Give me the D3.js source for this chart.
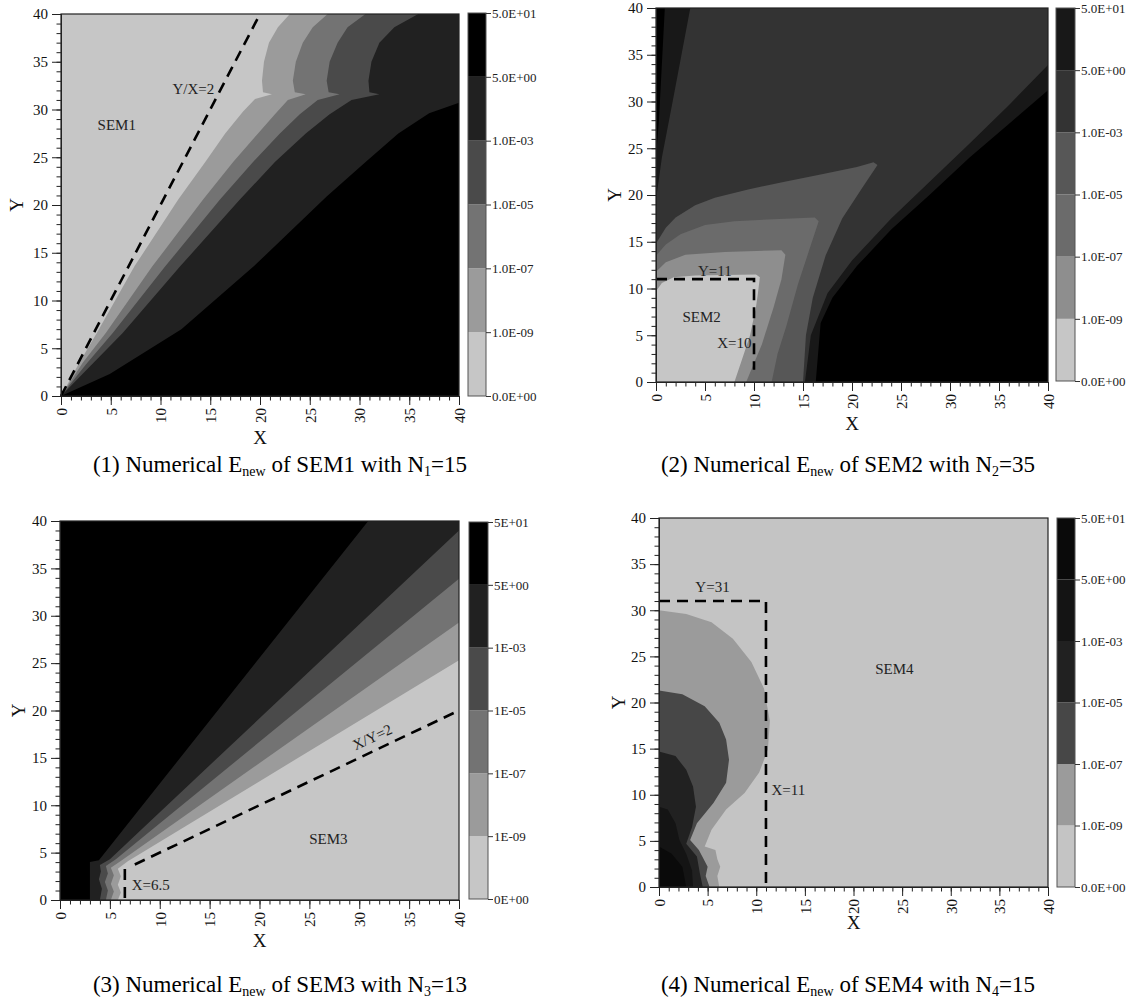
<!DOCTYPE html>
<html>
<head>
<meta charset="utf-8">
<script src="https://cdn.jsdelivr.net/npm/d3@7"></script>
<style>
body { margin: 0; background: #fff; }
svg, svg text { font-family: "Liberation Serif", "Times New Roman", serif; }
</style>
</head>
<body>
<svg id="chart" width="1134" height="1000"></svg>
<script>
// tick values
var majorTicks = d3.range(0, 41, 5);
var minorTicks = d3.range(0, 41, 1);
var levelLabels = ["0.0E+00", "1.0E-09", "1.0E-07", "1.0E-05", "1.0E-03", "5.0E+00", "5.0E+01"];
var levelLabelsShort = ["0E+00", "1E-09", "1E-07", "1E-05", "1E-03", "5E+00", "5E+01"];

// SEM1: contour edges, each band fills the part right/below of its edge
var sem1Band1 = [[0,0],[1.8,3.4],[3.6,6.6],[7.4,13.6],[11.8,20.6],[14.5,24.5],[16.5,27.5],[18.3,29.8],[19.5,31.1],[21.2,31.6],[20.3,31.8],[20.2,33],[20.4,35],[20.9,37],[21.8,38.6],[23,40],[40,40],[40,0]];
var sem1Band2 = [[0,0],[2.2,3.5],[4.5,6.6],[9.2,13.6],[14.3,20.6],[17.3,24.5],[19.8,27.5],[21.5,29.5],[22.8,31],[24.6,31.6],[23.5,31.8],[23.3,33],[23.6,35],[24.3,37],[25.3,38.6],[26.8,40],[40,40],[40,0]];
var sem1Band3 = [[0,0],[2.5,3.3],[5.2,6.6],[10.5,13.6],[16,20.6],[19.3,24.5],[22,27.5],[24,29.5],[25.8,31],[28,31.6],[26.9,31.8],[26.7,33],[27,35],[27.8,37],[28.8,38.6],[30.6,40],[40,40],[40,0]];
var sem1Band4 = [[0,0],[3,3.2],[6.2,6.6],[12,13.6],[18,20.6],[21.5,24.5],[24.6,27.5],[27,29.5],[29.2,31],[32,31.6],[31,31.8],[30.9,33],[31.2,35],[32,37],[33.5,38.6],[35.9,40],[40,40],[40,0]];
var sem1Band5 = [[0,0],[4.9,2.3],[12.1,7],[19.4,13.6],[26.7,20.9],[30.5,24.4],[33.9,27.5],[37,29.6],[40,30.7],[40,0]];

// SEM2
var sem2Band5Right = [[15.2,0],[15.8,5],[17.5,9.5],[20,13],[24,17.5],[28,21.5],[32,25.5],[36,29.6],[40,33.9],[40,0]];
var sem2OverRight = [[16.3,0],[16.8,6.3],[18,9],[20.5,12.4],[24,16.3],[27.9,20],[32,24],[36,27.6],[40,31.2],[40,0]];
var sem2Band5Left = [[0,19.5],[0.6,24],[1.7,30],[2.6,35],[3.5,40],[0,40]];
var sem2OverLeft = [[0,24],[0.3,28],[0.5,32],[0.7,36],[0.9,40],[0,40]];
var sem2Band3 = [[0,14.8],[1,16.5],[2,17.6],[4,18.9],[6,19.7],[9.4,20.6],[13,21.4],[16.8,22.2],[20.5,23],[22.2,23.5],[22.6,23.2],[21,20.7],[19,17.5],[17.3,13.5],[16,9],[15.3,5],[15,0],[0,0]];
var sem2Band2 = [[0,13.5],[1,14.7],[2.5,15.8],[5,16.8],[8,17.2],[12,17.4],[16.2,17.6],[16.6,17.2],[15.6,14],[14.5,10.5],[13.3,6],[12.4,3],[11.8,0],[0,0]];
var sem2Band1 = [[0,11.8],[1,12.8],[3,13.6],[7,13.9],[12.8,14.1],[13.2,13.6],[12.8,11],[12,8],[10.8,4],[9.2,0],[0,0]];
var sem2Band0 = [[0,9.7],[0.6,10.6],[1.8,11.2],[4,11.4],[10.2,11.5],[10.6,11.2],[10.4,9.5],[10.2,8],[9.6,5],[8.8,2.5],[8,0],[0,0]];

// SEM3: each band fills the part left/above of its edge
var sem3Band1 = [[5.8,0],[6.1,0.8],[5.8,1.6],[6.1,2.5],[5.8,3.3],[6.8,4.1],[40,25.3],[40,40],[0,40],[0,0]];
var sem3Band2 = [[5.1,0],[5.4,0.9],[5.1,1.7],[5.4,2.6],[5.1,3.4],[6.2,4.2],[40,29.3],[40,40],[0,40],[0,0]];
var sem3Band3 = [[4.6,0],[4.8,1],[4.5,1.9],[4.8,2.8],[4.6,3.6],[5.6,4.3],[40,33.9],[40,40],[0,40],[0,0]];
var sem3Band4 = [[4,0],[4.2,1.2],[3.9,2.2],[4.1,3],[4,3.7],[5,4.3],[40,39],[40,40],[0,40],[0,0]];
var sem3Band5 = [[3,0],[3,4],[3.9,4.2],[30.9,40],[0,40],[0,0]];

// SEM4: bands grow from the origin
var sem4Band1 = [[0,30],[2.8,29.6],[5.4,28.7],[7.6,26.9],[9.5,24.4],[10.8,21.5],[11.4,18],[11.2,14.9],[10.3,12.4],[8.8,10.2],[6.9,8.4],[5.4,6.2],[4.7,4.4],[5.8,4],[6,3],[6.3,2.2],[6,1.2],[6.2,0],[0,0]];
var sem4Band2 = [[0,21.3],[2.4,20.9],[4.7,19.6],[6.2,17.8],[6.9,16],[7.2,13.8],[6.9,11.3],[5.6,9.1],[3.9,6.9],[3.2,5.1],[4.1,4],[4.6,3],[5,2.2],[4.8,1.2],[5.2,0],[0,0]];
var sem4Band3 = [[0,14.7],[1.7,14.2],[2.8,12.7],[3.5,10.9],[3.8,8.7],[3.4,6.5],[2.8,4.7],[3.9,3.3],[4.2,1.5],[4.5,0],[0,0]];
var sem4Band4 = [[0,8.7],[0.9,8.4],[1.7,6.9],[2.1,5.1],[2.8,3.6],[3.4,1.8],[3.5,0],[0,0]];
var sem4Band5 = [[0,4.4],[1.3,3.6],[2.4,2.2],[2.8,0],[0,0]];

// dashed division lines
var sem1Dash = [[[0,0],[20,40]]];
var sem2Dash = [[[0,11],[10,11],[10,1.3]]];
var sem3Dash = [[[7.5,3.75],[40,20]], [[6.5,0.2],[6.5,3.9]]];
var sem4Dash = [[[0,31],[11,31],[11,0.2]]];

var grayA = ["#c6c6c6", "#9b9b9b", "#737373", "#4a4a4a", "#212121", "#000000"];
var grayB = ["#c6c6c6", "#8e8e8e", "#6b6b6b", "#575757", "#333333", "#181818", "#000000"];
var grayC = ["#c4c4c4", "#9b9b9b", "#474747", "#212121", "#141414", "#0a0a0a"];

var serif = "Liberation Serif, Times New Roman, serif";
var svg = d3.select("#chart").attr("font-family", serif);

var panels = [
  { id: 1, box: [61, 459, 14, 396], bar: [468, 486, 13, 396], gray: grayA, base: 0,
    regions: [[1, sem1Band1], [2, sem1Band2], [3, sem1Band3], [4, sem1Band4], [5, sem1Band5]],
    dash: sem1Dash, labels: levelLabels,
    notes: [["Y/X=2", 13.3, 32.2, 0], ["SEM1", 5.6, 28.4, 0]],
    yTitle: 16, xTitle: 437, caption: [280, 472, "1", "SEM1", "1", "15"] },
  { id: 2, box: [656, 1048, 8, 382], bar: [1056, 1075, 8, 381], gray: grayB, base: 4,
    regions: [[5, sem2Band5Right], [6, sem2OverRight], [5, sem2Band5Left], [6, sem2OverLeft],
              [3, sem2Band3], [2, sem2Band2], [1, sem2Band1], [0, sem2Band0]],
    dash: sem2Dash, labels: levelLabels,
    notes: [["Y=11", 6.0, 11.9, 0], ["SEM2", 4.65, 7.0, 0], ["X=10", 8.0, 4.2, 0]],
    yTitle: 614, xTitle: 423, caption: [848, 472, "2", "SEM2", "2", "35"] },
  { id: 3, box: [60, 459, 521, 900], bar: [469, 488, 522, 899], gray: grayA, base: 0,
    regions: [[1, sem3Band1], [2, sem3Band2], [3, sem3Band3], [4, sem3Band4], [5, sem3Band5]],
    dash: sem3Dash, labels: levelLabelsShort,
    notes: [["X/Y=2", 31.3, 17.2, -25], ["SEM3", 26.9, 6.5, 0], ["X=6.5", 9.1, 1.65, 0]],
    yTitle: 18, xTitle: 940, caption: [280, 992, "3", "SEM3", "3", "13"] },
  { id: 4, box: [659, 1048, 518, 887], bar: [1057, 1075, 518, 887], gray: grayC, base: 0,
    regions: [[1, sem4Band1], [2, sem4Band2], [3, sem4Band3], [4, sem4Band4], [5, sem4Band5]],
    dash: sem4Dash, labels: levelLabels,
    notes: [["Y=31", 5.5, 32.5, 0], ["SEM4", 24.2, 23.7, 0], ["X=11", 13.3, 10.5, 0]],
    yTitle: 618, xTitle: 922, caption: [848, 992, "4", "SEM4", "4", "15"] }
];

panels.forEach(drawPanel);

function drawPanel(p) {
  var g = svg.append("g").attr("font-family", serif);
  var x = d3.scaleLinear().domain([0, 40]).range([p.box[0], p.box[1]]);
  var y = d3.scaleLinear().domain([0, 40]).range([p.box[3], p.box[2]]);
  var line = d3.line().x(function(d) { return x(d[0]); }).y(function(d) { return y(d[1]); });

  g.append("clipPath").attr("id", "clip" + p.id)
    .append("rect")
    .attr("x", x(0)).attr("y", y(40))
    .attr("width", x(40) - x(0)).attr("height", y(0) - y(40));

  var plot = g.append("g").attr("clip-path", "url(#clip" + p.id + ")");
  plot.append("rect")
    .attr("x", x(0)).attr("y", y(40))
    .attr("width", x(40) - x(0)).attr("height", y(0) - y(40))
    .attr("fill", p.gray[p.base]);

  plot.selectAll("path.band")
    .data(p.regions)
    .enter()
    .append("path")
    .attr("class", "band")
    .attr("d", function(r) { return line(r[1]) + "Z"; })
    .attr("fill", function(r) { return p.gray[r[0]]; });

  // dashed lines
  g.selectAll("path.dash")
    .data(p.dash)
    .enter()
    .append("path")
    .attr("class", "dash")
    .attr("d", function(d) { return line(d); })
    .attr("fill", "none")
    .attr("stroke", "#000")
    .attr("stroke-width", 2.6)
    .attr("stroke-dasharray", "11,7");

  g.selectAll("text.note")
    .data(p.notes)
    .enter()
    .append("text")
    .attr("class", "note")
    .attr("transform", function(d) { return "translate(" + x(d[1]) + "," + y(d[2]) + ") rotate(" + d[3] + ")"; })
    .attr("text-anchor", "middle")
    .attr("dy", "0.35em")
    .attr("font-size", 15)
    .attr("fill", "#222")
    .text(function(d) { return d[0]; });

  // frame
  g.append("rect")
    .attr("x", x(0)).attr("y", y(40))
    .attr("width", x(40) - x(0)).attr("height", y(0) - y(40))
    .attr("fill", "none").attr("stroke", "#222").attr("stroke-width", 1.2);

  // axes: minor then major
  g.append("g").attr("transform", "translate(" + x(0) + ",0)")
    .call(d3.axisLeft(y).tickValues(minorTicks).tickSize(4.5).tickFormat(""));
  g.append("g").attr("transform", "translate(0," + y(0) + ")")
    .call(d3.axisBottom(x).tickValues(minorTicks).tickSize(4.5).tickFormat(""));

  var yAxis = g.append("g").attr("transform", "translate(" + x(0) + ",0)")
    .call(d3.axisLeft(y).tickValues(majorTicks).tickSize(9).tickPadding(4));
  yAxis.attr("font-family", serif);
  yAxis.selectAll("text").attr("font-size", 15).attr("fill", "#111");

  var xAxis = g.append("g").attr("transform", "translate(0," + y(0) + ")")
    .call(d3.axisBottom(x).tickValues(majorTicks).tickSize(9));
  xAxis.attr("font-family", serif);
  xAxis.selectAll("text")
    .attr("font-size", 15).attr("fill", "#111")
    .attr("transform", "rotate(-90)")
    .attr("text-anchor", "end")
    .attr("x", -12).attr("y", 0).attr("dy", "0.35em");

  g.selectAll(".domain").attr("stroke", "#222");
  g.selectAll(".tick line").attr("stroke", "#222");

  // axis titles
  g.append("text")
    .attr("x", (x(0) + x(40)) / 2).attr("y", p.xTitle)
    .attr("text-anchor", "middle").attr("dy", "0.35em")
    .attr("font-size", 19).attr("fill", "#111")
    .text("X");
  g.append("text")
    .attr("transform", "translate(" + p.yTitle + "," + (y(0) + y(40)) / 2 + ") rotate(-90)")
    .attr("text-anchor", "middle").attr("dy", "0.35em")
    .attr("font-size", 19).attr("fill", "#111")
    .text("Y");

  // colour bar
  var cb = d3.scaleLinear().domain([0, 6]).range([p.bar[3], p.bar[2]]);
  var bandIdx = d3.range(6);
  g.selectAll("rect.cb")
    .data(bandIdx)
    .enter()
    .append("rect")
    .attr("class", "cb")
    .attr("x", p.bar[0]).attr("width", p.bar[1] - p.bar[0])
    .attr("y", function(i) { return cb(i + 1); })
    .attr("height", function(i) { return cb(i) - cb(i + 1); })
    .attr("fill", function(i) { return p.gray[i]; });
  g.append("rect")
    .attr("x", p.bar[0]).attr("y", p.bar[2])
    .attr("width", p.bar[1] - p.bar[0]).attr("height", p.bar[3] - p.bar[2])
    .attr("fill", "none").attr("stroke", "#555").attr("stroke-width", 1);
  var cbAxis = g.append("g").attr("transform", "translate(" + p.bar[1] + ",0)")
    .call(d3.axisRight(cb).tickValues(d3.range(7)).tickSize(5).tickPadding(1)
      .tickFormat(function(i) { return p.labels[i]; }));
  cbAxis.attr("font-family", serif);
  cbAxis.select(".domain").remove();
  cbAxis.selectAll("line").attr("stroke", "#333");
  cbAxis.selectAll("text").attr("font-size", 13).attr("fill", "#222");

  // caption
  var c = p.caption;
  var cap = g.append("text")
    .attr("x", c[0]).attr("y", c[1])
    .attr("text-anchor", "middle")
    .attr("font-size", 23).attr("fill", "#000");
  cap.append("tspan").text("(" + c[2] + ") Numerical E");
  cap.append("tspan").attr("font-size", 14).attr("dy", 4).text("new");
  cap.append("tspan").attr("dy", -4).text(" of " + c[3] + " with N");
  cap.append("tspan").attr("font-size", 14).attr("dy", 4).text(c[4]);
  cap.append("tspan").attr("dy", -4).text("=" + c[5]);
}
</script>
</body>
</html>
